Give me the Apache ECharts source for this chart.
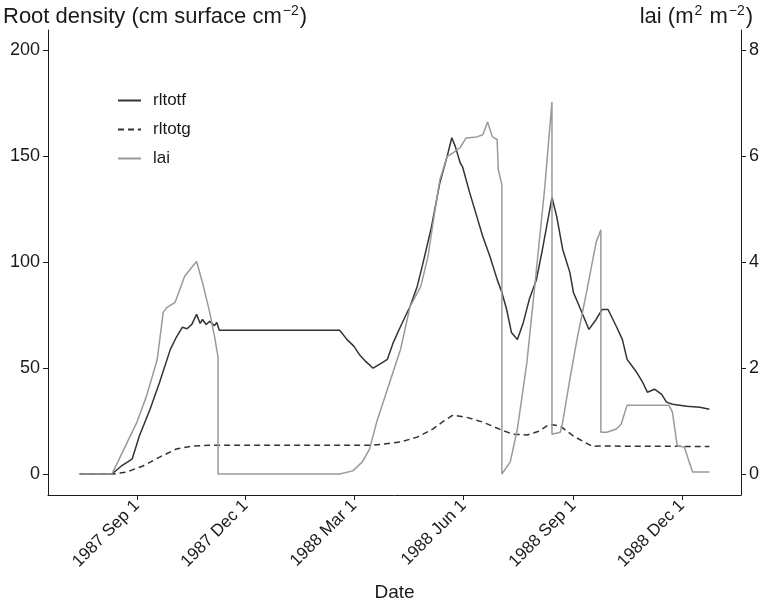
<!DOCTYPE html>
<html>
<head>
<meta charset="utf-8">
<title>Root density and lai</title>
<script src="https://cdn.jsdelivr.net/npm/echarts@6/dist/echarts.min.js"></script>
<style>
  html, body { margin: 0; padding: 0; background: #fff; }
  #chart { width: 765px; height: 607px; }
</style>
</head>
<body>
<div id="chart"></div>
<script>
// values
var rlfDates = [
  '1987-07-15','1987-08-11','1987-08-12','1987-08-19','1987-08-24','1987-08-28','1987-09-03','1987-09-12',
  '1987-09-20','1987-09-29','1987-10-04','1987-10-09','1987-10-13','1987-10-17','1987-10-21','1987-10-24',
  '1987-10-26','1987-10-29','1987-11-01','1987-11-05','1987-11-07','1987-11-09','1988-02-18','1988-02-24',
  '1988-03-01','1988-03-06','1988-03-11','1988-03-17','1988-03-23','1988-03-29','1988-04-03','1988-04-09',
  '1988-04-17','1988-04-23','1988-04-28','1988-05-05','1988-05-12','1988-05-18','1988-05-22','1988-05-25',
  '1988-05-29','1988-05-31','1988-06-06','1988-06-12','1988-06-17','1988-06-23','1988-06-29','1988-07-03',
  '1988-07-07','1988-07-11','1988-07-16','1988-07-21','1988-07-26','1988-08-01','1988-08-06','1988-08-14',
  '1988-08-18','1988-08-23','1988-08-29','1988-09-01','1988-09-06','1988-09-14','1988-09-20','1988-09-25',
  '1988-09-30','1988-10-07','1988-10-12','1988-10-16','1988-10-24','1988-10-29','1988-11-02','1988-11-08',
  '1988-11-14','1988-11-18','1988-11-23','1988-12-05','1988-12-16','1988-12-24'
];
var rlfValues = [
  0, 0, 0.9, 3.8, 5.6, 7.1, 17.9, 30.6,
  43.3, 58.8, 64.5, 69.2, 68.5, 70.6, 75.3, 71.0,
  72.9, 70.5, 72.0, 70.0, 71.5, 67.8, 67.8, 63.5,
  60.2, 56.0, 53.0, 49.9, 52.0, 54.1, 62.1, 69.6,
  79.0, 88.5, 99.8, 116.7, 137.4, 149.6, 158.6, 154.4,
  146.8, 144.9, 132.7, 121.4, 112.0, 102.6, 91.8, 85.6,
  77.6, 66.8, 63.5, 71.5, 82.4, 91.8, 105.9, 130.4,
  121.4, 105.9, 95.1, 85.6, 79.0, 68.2, 72.9, 77.6,
  77.6, 69.6, 63.5, 54.1, 48.0, 43.3, 38.6, 40.0,
  37.6, 33.9, 32.9, 32.0, 31.5, 30.6
];

var rlgDates = [
  '1987-07-15','1987-08-12','1987-08-23','1987-09-06','1987-09-20','1987-10-04','1987-10-18','1987-11-01',
  '1988-03-17','1988-04-09','1988-04-23','1988-05-06','1988-05-15','1988-05-23','1988-06-03','1988-06-17',
  '1988-07-01','1988-07-12','1988-07-24','1988-08-03','1988-08-12','1988-08-21','1988-09-01','1988-09-17',
  '1988-09-23','1988-12-24'
];
var rlgValues = [
  0, 0, 0.9, 3.8, 8.0, 11.8, 13.2, 13.6,
  13.6, 15.1, 17.4, 21.2, 24.9, 27.8, 26.8, 24.5,
  21.2, 18.8, 18.4, 20.2, 23.5, 22.6, 17.9, 13.0,
  13.2, 13.0
];

var laiDates = [
  '1987-07-15','1987-08-11','1987-08-16','1987-08-23','1987-09-01','1987-09-09','1987-09-18','1987-09-23',
  '1987-09-26','1987-10-03','1987-10-11','1987-10-17','1987-10-21','1987-10-26','1987-11-01','1987-11-05',
  '1987-11-08','1987-11-08','1988-02-18','1988-02-29','1988-03-08','1988-03-14','1988-03-20','1988-03-29',
  '1988-04-09','1988-04-17','1988-04-26','1988-05-02','1988-05-08','1988-05-12','1988-05-18','1988-05-23',
  '1988-05-29','1988-06-03','1988-06-12','1988-06-17','1988-06-21','1988-06-25','1988-06-29','1988-06-30',
  '1988-07-03','1988-07-03','1988-07-10','1988-07-16','1988-07-24','1988-08-01','1988-08-08','1988-08-14',
  '1988-08-14','1988-08-21','1988-08-23','1988-08-29','1988-09-04','1988-09-12','1988-09-20','1988-09-24',
  '1988-09-24','1988-09-29','1988-10-07','1988-10-11','1988-10-16','1988-11-20','1988-11-23','1988-11-27',
  '1988-12-03','1988-12-07','1988-12-10','1988-12-24'
];
var laiValues = [
  0, 0, 0.23, 0.56, 0.98, 1.47, 2.16, 3.05,
  3.14, 3.24, 3.73, 3.90, 4.01, 3.61, 3.05, 2.60,
  2.20, 0, 0, 0.06, 0.23, 0.47, 0.98, 1.60,
  2.35, 3.16, 3.54, 4.10, 4.99, 5.55, 5.99, 6.06,
  6.16, 6.34, 6.36, 6.40, 6.64, 6.36, 6.31, 5.74,
  5.46, 0, 0.23, 0.85, 2.11, 3.86, 5.42, 7.02,
  0.75, 0.79, 0.98, 1.79, 2.54, 3.43, 4.37, 4.61,
  0.79, 0.79, 0.85, 0.94, 1.30, 1.30, 1.17, 0.53,
  0.51, 0.23, 0.04, 0.04
];

var xTickDates = ['1987-09-01','1987-12-01','1988-03-01','1988-06-01','1988-09-01','1988-12-01'];
var leftTicks = [0, 50, 100, 150, 200];
var rightTicks = [0, 2, 4, 6, 8];
var monthNames = ['Jan','Feb','Mar','Apr','May','Jun','Jul','Aug','Sep','Oct','Nov','Dec'];

function toTime(s){
  var p = s.split('-');
  return new Date(+p[0], +p[1] - 1, +p[2]).getTime();
};

function zip(dates, values){
  var out = [];
  for(var i=0;i<dates.length;i++){
    out.push([toTime(dates[i]), values[i]]);
  };
  return out;
};

var font = "'Liberation Sans', Arial, Helvetica, sans-serif";
var ink = '#1a1a1a';
var xTicks = xTickDates.map(toTime);

// axis titles with raised exponents
var titleRich = {
  a: { fontFamily: font, fontSize: 22, color: ink, lineHeight: 26 },
  s: { fontFamily: font, fontSize: 14, color: ink, lineHeight: 15, verticalAlign: 'top', padding: [0, 1, 0, 1] }
};

var chart = echarts.init(document.getElementById('chart'), null, {renderer: 'canvas'});
chart.setOption({
  animation: false,
  backgroundColor: '#fff',
  textStyle: { fontFamily: font, color: ink },
  title: [
    { text: '{a|Root density (cm surface cm}{s|\u22122}{a|)}', left: -2, top: -1,
      textStyle: { fontWeight: 'normal', rich: titleRich } },
    { text: '{a|lai (m}{s|2}{a| m}{s|\u22122}{a|)}', right: 7, top: -1,
      textStyle: { fontWeight: 'normal', rich: titleRich } }
  ],
  legend: {
    orient: 'vertical',
    left: 112,
    top: 87,
    itemWidth: 23,
    itemHeight: 14,
    itemGap: 12,
    itemStyle: { opacity: 0 },
    textStyle: { fontFamily: font, fontSize: 17, color: ink, padding: [0, 0, 0, 7] },
    data: ['rltotf', 'rltotg', 'lai']
  },
  grid: { left: 48, right: 24, top: 30, bottom: 111, containLabel: false },
  // dates kept as timestamps on a value axis so the quarter ticks can be placed exactly
  xAxis: {
    type: 'value',
    min: new Date(1987, 5, 18, 10).getTime(),
    max: new Date(1989, 0, 19, 12).getTime(),
    name: 'Date',
    nameLocation: 'middle',
    nameGap: 88,
    nameTextStyle: { fontFamily: font, fontSize: 19, color: ink },
    splitLine: { show: false },
    axisLine: { onZero: false, lineStyle: { color: ink, width: 1 } },
    axisTick: { show: true, length: 5, lineStyle: { color: ink }, customValues: xTicks },
    axisLabel: {
      rotate: 45,
      margin: 8,
      fontFamily: font,
      fontSize: 17,
      color: ink,
      customValues: xTicks,
      formatter: function(v){
        var d = new Date(v);
        return d.getFullYear() + ' ' + monthNames[d.getMonth()] + ' ' + d.getDate();
      }
    }
  },
  yAxis: [
    {
      type: 'value',
      position: 'left',
      min: -9.88,
      max: 209.4,
      splitLine: { show: false },
      axisLine: { show: true, onZero: false, lineStyle: { color: ink, width: 1 } },
      axisTick: { show: true, length: 5, lineStyle: { color: ink }, customValues: leftTicks },
      axisLabel: { fontFamily: font, fontSize: 18, color: ink, margin: 8, customValues: leftTicks }
    },
    {
      type: 'value',
      position: 'right',
      min: -0.395,
      max: 8.376,
      splitLine: { show: false },
      axisLine: { show: true, onZero: false, lineStyle: { color: ink, width: 1 } },
      axisTick: { show: true, length: 5, lineStyle: { color: ink }, customValues: rightTicks },
      axisLabel: { fontFamily: font, fontSize: 18, color: ink, margin: 8, customValues: rightTicks }
    }
  ],
  series: [
    {
      name: 'rltotf',
      type: 'line',
      yAxisIndex: 0,
      symbol: 'none',
      lineStyle: { color: '#333333', width: 1.5 },
      itemStyle: { color: '#333333' },
      data: zip(rlfDates, rlfValues)
    },
    {
      name: 'rltotg',
      type: 'line',
      yAxisIndex: 0,
      symbol: 'none',
      lineStyle: { color: '#333333', width: 1.5, type: [6, 4] },
      itemStyle: { color: '#333333' },
      data: zip(rlgDates, rlgValues)
    },
    {
      name: 'lai',
      type: 'line',
      yAxisIndex: 1,
      symbol: 'none',
      lineStyle: { color: '#9a9a9a', width: 1.5 },
      itemStyle: { color: '#9a9a9a' },
      data: zip(laiDates, laiValues)
    }
  ]
});
</script>
</body>
</html>
